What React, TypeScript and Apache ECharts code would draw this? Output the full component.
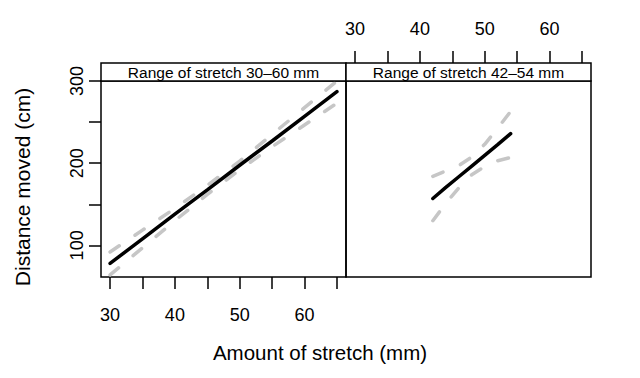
import React, { useEffect, useRef } from "react";
import * as echarts from "echarts";

// Panel 1: Range of stretch 30–60 mm
const xA = [30, 35, 40, 45, 50, 55, 60, 65];
const fitA = [78, 108, 138, 167.5, 197.5, 227, 257, 287];
const upA = [92, 118.5, 145, 173, 202.5, 235, 267.5, 300];
const loA = [64, 97, 130, 162, 192, 220, 246.5, 273];

// Panel 2: Range of stretch 42–54 mm
const xB = [42, 44, 46, 48, 50, 52, 54];
const fitB = [157, 170.5, 183.5, 196.5, 209.5, 222.5, 236];
const upB = [184, 190.5, 197, 207.5, 223, 242.5, 263];
const loB = [130, 151, 170, 186, 196, 203, 207];

const stripLabels = ["Range of stretch 30\u201360 mm", "Range of stretch 42\u201354 mm"];
const xTicks = [30, 35, 40, 45, 50, 55, 60, 65];
const xTickLabels = [30, 40, 50, 60];
const yTicks = [100, 150, 200, 250, 300];
const yTickLabels = [100, 200, 300];
const xTitle = "Amount of stretch (mm)";
const yTitle = "Distance moved (cm)";

const FONT = "'Liberation Sans', Arial, Helvetica, sans-serif";

const pairs = (xs: number[], ys: number[]) => xs.map((x, i) => [x, ys[i]]);

export default function App() {
  const ref = useRef<HTMLDivElement>(null);
  useEffect(() => {
    if (!ref.current) return;
    const chart = echarts.init(ref.current, null, { renderer: "svg" });
    const P = { top: 81, height: 196, w: 245 };
    const L1 = 101;
    const L2 = 346;
    const xCommon = { type: "value", min: 28.6, max: 66.4, splitLine: { show: false } };
    const yCommon = { type: "value", min: 61.5, max: 300, splitLine: { show: false } };
    const solid = { color: "#000", width: 3.5, type: "solid", cap: "round" };
    const dashed = { color: "#c6c6c6", width: 3.5, type: [11, 19], cap: "round" };
    const mk = (name: string, data: number[][], idx: number, style: any, z: number) => ({
      type: "line",
      name,
      data,
      xAxisIndex: idx,
      yAxisIndex: idx,
      showSymbol: false,
      symbol: "none",
      lineStyle: style,
      z,
      silent: true,
    });
    chart.setOption({
      animation: false,
      grid: [
        { left: L1, top: P.top, width: P.w, height: P.height, show: true, borderColor: "#000", borderWidth: 1.5, backgroundColor: "transparent" },
        { left: L2, top: P.top, width: P.w, height: P.height, show: true, borderColor: "#000", borderWidth: 1.5, backgroundColor: "transparent" },
      ],
      xAxis: [
        {
          ...xCommon,
          gridIndex: 0,
          position: "bottom",
          axisLine: { show: false },
          axisTick: { show: true, customValues: xTicks, length: 12, lineStyle: { color: "#000", width: 1.5 } },
          axisLabel: { customValues: xTickLabels, margin: 29, fontSize: 18, color: "#000", fontFamily: FONT },
        },
        {
          ...xCommon,
          gridIndex: 1,
          position: "top",
          offset: 18,
          axisLine: { show: false },
          axisTick: { show: true, customValues: xTicks, length: 12, lineStyle: { color: "#000", width: 1.5 } },
          axisLabel: { customValues: xTickLabels, margin: 25, fontSize: 18, color: "#000", fontFamily: FONT },
        },
      ],
      yAxis: [
        {
          ...yCommon,
          gridIndex: 0,
          position: "left",
          axisLine: { show: false },
          axisTick: { show: true, customValues: yTicks, length: 12, lineStyle: { color: "#000", width: 1.5 } },
          axisLabel: { customValues: yTickLabels, rotate: 90, margin: 15, fontSize: 18, color: "#000", fontFamily: FONT },
        },
        {
          ...yCommon,
          gridIndex: 1,
          axisLine: { show: false },
          axisTick: { show: false },
          axisLabel: { show: false },
        },
      ],
      series: [
        mk("upA", pairs(xA, upA), 0, dashed, 2),
        mk("loA", pairs(xA, loA), 0, dashed, 2),
        mk("fitA", pairs(xA, fitA), 0, solid, 3),
        mk("upB", pairs(xB, upB), 1, dashed, 2),
        mk("loB", pairs(xB, loB), 1, dashed, 2),
        mk("fitB", pairs(xB, fitB), 1, solid, 3),
      ],
      graphic: [
        { type: "rect", shape: { x: L1, y: 63, width: P.w, height: 18 }, style: { fill: "#fff", stroke: "#000", lineWidth: 1.5 }, z: 10 },
        { type: "rect", shape: { x: L2, y: 63, width: P.w, height: 18 }, style: { fill: "#fff", stroke: "#000", lineWidth: 1.5 }, z: 10 },
        { type: "text", x: L1 + P.w / 2, y: 72.5, style: { text: stripLabels[0], fontSize: 15.5, fontFamily: FONT, fill: "#000", textAlign: "center", textVerticalAlign: "middle" }, z: 11 },
        { type: "text", x: L2 + P.w / 2, y: 72.5, style: { text: stripLabels[1], fontSize: 15.5, fontFamily: FONT, fill: "#000", textAlign: "center", textVerticalAlign: "middle" }, z: 11 },
        { type: "text", x: 320, y: 352, style: { text: xTitle, fontSize: 20.5, fontFamily: FONT, fill: "#000", textAlign: "center", textVerticalAlign: "middle" } },
        { type: "text", x: 22, y: 187, rotation: Math.PI / 2, style: { text: yTitle, fontSize: 21, fontFamily: FONT, fill: "#000", textAlign: "center", textVerticalAlign: "middle" } },
      ],
    });
    return () => chart.dispose();
  }, []);
  return <div ref={ref} style={{ position: "fixed", left: 0, top: 0, width: 640, height: 378, background: "#fff" }} />;
}
